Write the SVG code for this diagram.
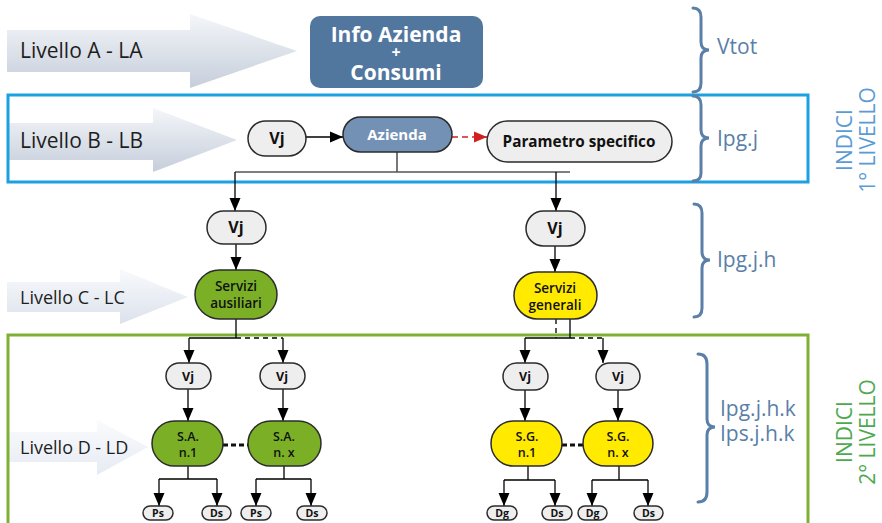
<svg xmlns="http://www.w3.org/2000/svg" width="882" height="523" viewBox="0 0 882 523">
<defs>
<linearGradient id="gA" x1="0" y1="0" x2="0" y2="1"><stop offset="0" stop-color="#F4F6F9"/><stop offset="1" stop-color="#C6CEDB"/></linearGradient>
<linearGradient id="gC" x1="0" y1="0" x2="0" y2="1"><stop offset="0" stop-color="#F8FAFC"/><stop offset="1" stop-color="#DCE2EC"/></linearGradient>
<linearGradient id="gD" x1="0" y1="0" x2="0" y2="1"><stop offset="0" stop-color="#FAFBFD"/><stop offset="1" stop-color="#E6EBF3"/></linearGradient>
<marker id="ah" markerWidth="13" markerHeight="12" refX="13" refY="6" orient="auto" markerUnits="userSpaceOnUse"><path d="M0,0.5 L13,6 L0,11.5 Z" fill="#000"/></marker>
<marker id="ahr" markerWidth="13" markerHeight="12" refX="13" refY="6" orient="auto" markerUnits="userSpaceOnUse"><path d="M0,0.5 L13,6 L0,11.5 Z" fill="#D21F1F"/></marker>
</defs>
<style>
text{font-family:"Open Sans","DejaVu Sans",sans-serif}
.lvl{font-size:21px;fill:#1E1E1E}
.lvs{font-size:18px;fill:#1E1E1E}
.pill{fill:#EEEEEE;stroke:#2B2B2B;stroke-width:1.5}
.b{font-weight:700;fill:#111;text-anchor:middle}
.s{font-weight:600;fill:#111;text-anchor:middle}
.w{font-weight:700;fill:#fff;text-anchor:middle}
.ln{stroke:#000;stroke-width:1.3;fill:none}
.gl{stroke:#555;stroke-width:1.6;fill:none}
.ar{stroke:#000;stroke-width:1.3;fill:none;marker-end:url(#ah)}
.ds{stroke:#000;stroke-width:1.3;fill:none;stroke-dasharray:5,4}
.dt{stroke:#111;stroke-width:3;fill:none;stroke-dasharray:5,3}
.br{stroke:#5A7FA8;stroke-width:3;fill:none;stroke-linecap:round}
.bt{font-size:21px;fill:#5A7FA8}
</style>

<g id="level-arrows">
<path d="M7,30 H190 V14 L297,51 L190,88 V72 H7 Z" fill="url(#gA)"/>
<path d="M8,123 H153 V108 L237,140 L153,172 V160 H8 Z" fill="url(#gA)"/>
<path d="M7,282 H120 V269 L188,297 L120,324 V312 H7 Z" fill="url(#gC)"/>
<path d="M9,432 H97 V420 L148,447 L97,475 V462 H9 Z" fill="url(#gD)"/>
<text class="lvl" x="20" y="58">Livello A - LA</text>
<text class="lvl" x="20" y="148">Livello B - LB</text>
<text class="lvs" x="20" y="304">Livello C - LC</text>
<text class="lvs" x="20" y="454">Livello D - LD</text>
</g>

<g id="frames">
<rect x="8" y="95" width="800" height="87" fill="none" stroke="#1BA1E2" stroke-width="3"/>
<path d="M8,530 V335 H808 V530" fill="none" stroke="#7CB133" stroke-width="3"/>
</g>

<g id="connectors">
<line class="ar" x1="306" y1="137" x2="343" y2="137"/>
<line x1="452" y1="137" x2="487" y2="137" stroke="#D21F1F" stroke-width="1.3" stroke-dasharray="6,4" marker-end="url(#ahr)"/>
<line class="gl" x1="397" y1="152" x2="397" y2="172"/>
<line class="gl" x1="235" y1="172" x2="570" y2="172"/>
<line class="ar" x1="235" y1="172" x2="235" y2="211"/>
<line class="ar" x1="556" y1="172" x2="556" y2="211"/>
<line class="ar" x1="236" y1="244" x2="236" y2="270"/>
<line class="ar" x1="555" y1="246" x2="555" y2="272"/>
<line class="ln" x1="236" y1="319" x2="236" y2="338"/>
<line class="ln" x1="189" y1="338" x2="236" y2="338"/>
<line class="ds" x1="236" y1="338" x2="283" y2="338"/>
<line class="ar" x1="189" y1="338" x2="189" y2="363"/>
<line class="ar" x1="283" y1="338" x2="283" y2="363"/>
<line class="ds" x1="556" y1="319" x2="556" y2="338"/>
<line class="ln" x1="570" y1="319" x2="570" y2="338"/>
<line class="ln" x1="525" y1="338" x2="570" y2="338"/>
<line class="ds" x1="570" y1="338" x2="603" y2="338"/>
<line class="ar" x1="525" y1="338" x2="525" y2="363"/>
<line class="ar" x1="603" y1="338" x2="603" y2="363"/>
<line class="ar" x1="188" y1="389" x2="188" y2="421"/>
<line class="ar" x1="283" y1="389" x2="283" y2="421"/>
<line class="ar" x1="525" y1="390" x2="525" y2="421"/>
<line class="ar" x1="618" y1="390" x2="618" y2="421"/>
<line class="dt" x1="223" y1="445" x2="248" y2="445"/>
<line class="dt" x1="562" y1="445" x2="583" y2="445"/>
<path class="ln" d="M188,466 V479 M159,479 H217 M284,466 V479 M256,479 H311 M528,466 V480 M504,480 H555 M619,466 V480 M592,480 H648"/>
<line class="ar" x1="159" y1="479" x2="159" y2="506"/>
<line class="ar" x1="217" y1="479" x2="217" y2="506"/>
<line class="ar" x1="256" y1="479" x2="256" y2="506"/>
<line class="ar" x1="311" y1="479" x2="311" y2="506"/>
<line class="ar" x1="504" y1="480" x2="504" y2="506"/>
<line class="ar" x1="555" y1="480" x2="555" y2="506"/>
<line class="ar" x1="592" y1="480" x2="592" y2="506"/>
<line class="ar" x1="648" y1="480" x2="648" y2="506"/>
</g>

<g id="info-azienda">
<rect x="310" y="16" width="173" height="72" rx="10" fill="#52779F"/>
<text class="w" font-size="21"><tspan x="396" y="42">Info Azienda</tspan><tspan x="396" y="58" font-size="16">+</tspan><tspan x="396" y="80">Consumi</tspan></text>
</g>
<g id="vj-b"><rect class="pill" x="248" y="121" width="58" height="35" rx="17.5"/><text class="b" x="277" y="144" font-size="16">Vj</text></g>
<g id="azienda"><rect x="343" y="117" width="109" height="35" rx="17.5" fill="#7391B4" stroke="#2B2B2B" stroke-width="1.5"/><text class="w" x="397" y="140" font-size="15">Azienda</text></g>
<g id="parametro"><rect class="pill" x="487" y="121" width="185" height="41" rx="20.5"/><text class="b" x="579" y="147" font-size="15.3">Parametro specifico</text></g>

<g id="vj-c1"><rect class="pill" x="207" y="211" width="59" height="33" rx="16.5"/><text class="b" x="236" y="233" font-size="16">Vj</text></g>
<g id="vj-c2"><rect class="pill" x="526" y="211" width="59" height="35" rx="17.5"/><text class="b" x="555" y="234" font-size="16">Vj</text></g>
<g id="servizi-ausiliari"><rect x="195" y="270" width="82" height="49" rx="24.5" fill="#7BB026" stroke="#2B2B2B" stroke-width="1.5"/><text class="s" x="236" y="291" font-size="13.5">Servizi</text><text class="s" x="236" y="308" font-size="13.5">ausiliari</text></g>
<g id="servizi-generali"><rect x="514" y="272" width="83" height="47" rx="23.5" fill="#FFEA00" stroke="#2B2B2B" stroke-width="1.5"/><text class="s" x="555" y="293" font-size="13.5">Servizi</text><text class="s" x="555" y="310" font-size="13.5">generali</text></g>

<g id="vj-d1"><rect class="pill" x="166" y="363" width="45" height="26" rx="13"/><text class="b" x="188" y="381" font-size="12.5">Vj</text></g>
<g id="vj-d2"><rect class="pill" x="260" y="363" width="45" height="26" rx="13"/><text class="b" x="282" y="381" font-size="12.5">Vj</text></g>
<g id="vj-d3"><rect class="pill" x="503" y="363" width="45" height="27" rx="13.5"/><text class="b" x="525" y="381" font-size="12.5">Vj</text></g>
<g id="vj-d4"><rect class="pill" x="596" y="363" width="44" height="27" rx="13.5"/><text class="b" x="618" y="381" font-size="12.5">Vj</text></g>

<g id="sa-n1"><rect x="152" y="421" width="71" height="45" rx="22.5" fill="#7BB026" stroke="#2B2B2B" stroke-width="1.5"/><text class="s" x="188" y="441" font-size="12.5">S.A.</text><text class="s" x="188" y="457" font-size="12.5">n.1</text></g>
<g id="sa-nx"><rect x="248" y="421" width="73" height="45" rx="22.5" fill="#7BB026" stroke="#2B2B2B" stroke-width="1.5"/><text class="s" x="284" y="441" font-size="12.5">S.A.</text><text class="s" x="284" y="457" font-size="12.5">n. x</text></g>
<g id="sg-n1"><rect x="491" y="421" width="71" height="45" rx="22.5" fill="#FFEA00" stroke="#2B2B2B" stroke-width="1.5"/><text class="s" x="527" y="441" font-size="12.5">S.G.</text><text class="s" x="527" y="457" font-size="12.5">n.1</text></g>
<g id="sg-nx"><rect x="583" y="421" width="70" height="45" rx="22.5" fill="#FFEA00" stroke="#2B2B2B" stroke-width="1.5"/><text class="s" x="618" y="441" font-size="12.5">S.G.</text><text class="s" x="618" y="457" font-size="12.5">n. x</text></g>

<g id="ps1"><rect class="pill" x="143" y="506" width="30" height="14" rx="7"/><text class="b" x="158" y="517" font-size="10.5">Ps</text></g>
<g id="ds1"><rect class="pill" x="202" y="506" width="29" height="14" rx="7"/><text class="b" x="216.5" y="517" font-size="10.5">Ds</text></g>
<g id="ps2"><rect class="pill" x="241" y="506" width="30" height="14" rx="7"/><text class="b" x="256" y="517" font-size="10.5">Ps</text></g>
<g id="ds2"><rect class="pill" x="297" y="506" width="30" height="14" rx="7"/><text class="b" x="312" y="517" font-size="10.5">Ds</text></g>
<g id="dg1"><rect class="pill" x="487" y="506" width="30" height="14" rx="7"/><text class="b" x="502" y="517" font-size="10.5">Dg</text></g>
<g id="ds3"><rect class="pill" x="542" y="506" width="30" height="14" rx="7"/><text class="b" x="557" y="517" font-size="10.5">Ds</text></g>
<g id="dg2"><rect class="pill" x="578" y="506" width="29" height="14" rx="7"/><text class="b" x="592.5" y="517" font-size="10.5">Dg</text></g>
<g id="ds4"><rect class="pill" x="634" y="506" width="29" height="14" rx="7"/><text class="b" x="648.5" y="517" font-size="10.5">Ds</text></g>

<g id="braces">
<path class="br" d="M693,8 Q701,8 701,17 V42 Q701,50 709,50 Q701,50 701,58 V83 Q701,92 693,92"/>
<path class="br" d="M693,96 Q701,96 701,105 V130 Q701,138 709,138 Q701,138 701,146 V173 Q701,181 693,181"/>
<path class="br" d="M694,204 Q702,204 702,213 V252 Q702,260 710,260 Q702,260 702,268 V308 Q702,317 694,317"/>
<path class="br" d="M698,354 Q707,354 707,364 V419 Q707,427 715,427 Q707,427 707,435 V492 Q707,502 698,502"/>
<text class="bt" x="717" y="54">Vtot</text>
<text class="bt" x="717" y="146">Ipg.j</text>
<text class="bt" x="717" y="267">Ipg.j.h</text>
<text class="bt" font-size="20"><tspan x="720" y="416">Ipg.j.h.k</tspan><tspan x="720" y="441">Ips.j.h.k</tspan></text>
</g>

<g id="side-labels" font-size="21" text-anchor="middle">
<text transform="translate(852,140) rotate(-90)" fill="#5B9BD5">INDICI</text>
<text transform="translate(875,140) rotate(-90)" fill="#5B9BD5">1° LIVELLO</text>
<text transform="translate(852,432) rotate(-90)" fill="#4EA94E">INDICI</text>
<text transform="translate(875,432) rotate(-90)" fill="#4EA94E">2° LIVELLO</text>
</g>
</svg>
